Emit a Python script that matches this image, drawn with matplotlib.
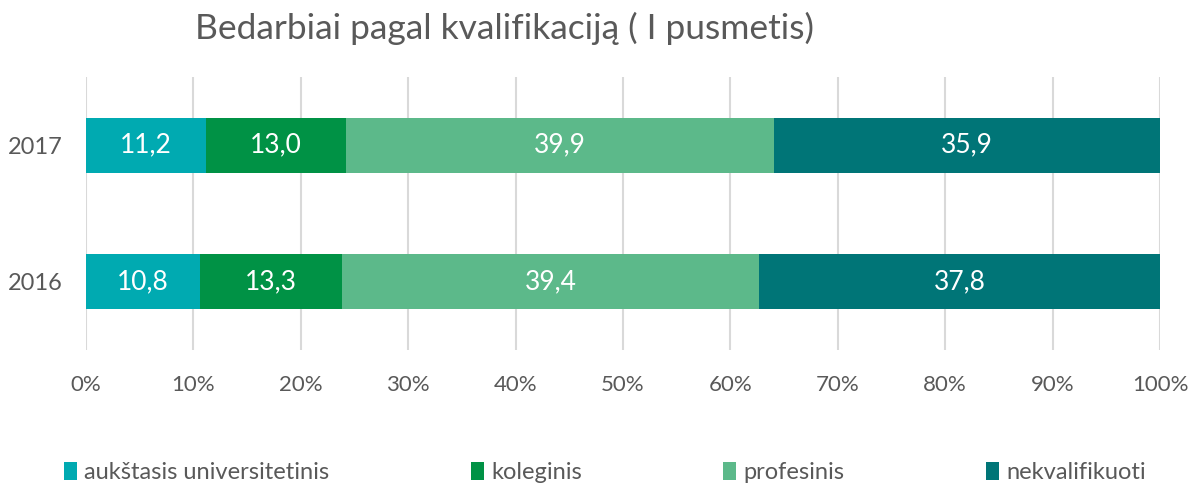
import numpy as np
import matplotlib.pyplot as plt
from matplotlib.patches import Patch
from matplotlib.ticker import PercentFormatter

years = ["2016", "2017"]
categories = ["aukštasis universitetinis", "koleginis", "profesinis", "nekvalifikuoti"]
values = {
    "aukštasis universitetinis": [10.8, 11.2],
    "koleginis": [13.3, 13.0],
    "profesinis": [39.4, 39.9],
    "nekvalifikuoti": [37.8, 35.9],
}
colors = ["#00AAB1", "#009245", "#5CB98A", "#007577"]

plt.rcParams['font.family'] = ['Lato', 'DejaVu Sans']
text_color = "#595959"

fig = plt.figure(figsize=(11.91, 4.87), dpi=100)
ax = fig.add_axes([0.0722, 0.2813, 0.9018, 0.5606])

# 100% stacked: normalise each year by its total
totals = np.sum([values[c] for c in categories], axis=0)

y = np.arange(len(years))
left = np.zeros(len(years))
for cat, col in zip(categories, colors):
    vals = np.array(values[cat])
    share = vals / totals * 100
    bars = ax.barh(y, share, left=left, height=0.4, color=col, zorder=3)
    for b, v in zip(bars, vals):
        ax.text(b.get_x() + b.get_width() / 2, b.get_y() + b.get_height() / 2,
                f"{v:.1f}".replace(".", ","), ha="center", va="center",
                color="white", fontsize=19, zorder=4)
    left += share

ax.set_xlim(0, 100)
ax.set_ylim(-0.5, 1.5)
ax.set_xticks(np.arange(0, 101, 10))
ax.xaxis.set_major_formatter(PercentFormatter(decimals=0))
ax.set_yticks(y)
ax.set_yticklabels(years)
ax.grid(axis="x", color="#D9D9D9", linewidth=1.5, zorder=0)
for s in ax.spines.values():
    s.set_visible(False)
ax.tick_params(axis="both", length=0, labelsize=16, labelcolor=text_color)
ax.tick_params(axis="x", pad=18)
ax.tick_params(axis="y", pad=17, labelsize=17)

fig.suptitle("Bedarbiai pagal kvalifikaciją ( I pusmetis)", x=0.424, y=0.975,
             fontsize=25.5, color=text_color)

handles = [Patch(facecolor=c) for c in colors]
leg = fig.legend(handles, categories, loc="center", bbox_to_anchor=(0.508, 0.03),
                 ncol=4, frameon=False, fontsize=17, handlelength=0.55,
                 handleheight=0.8, handletextpad=0.3, columnspacing=6.0)
for t in leg.get_texts():
    t.set_color(text_color)

fig.savefig("out.png", dpi=100)
